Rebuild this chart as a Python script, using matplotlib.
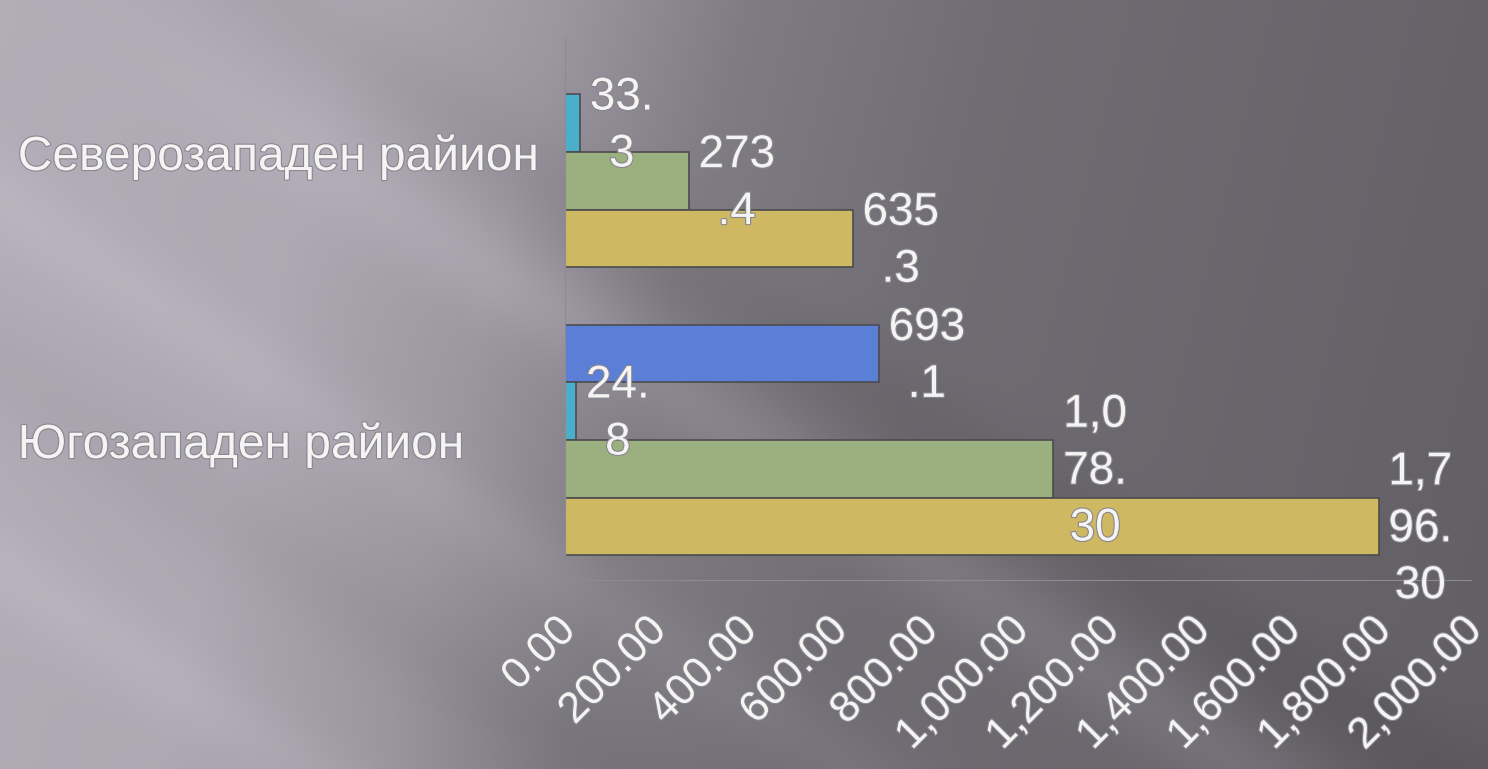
import numpy as np
import matplotlib.pyplot as plt
import matplotlib.transforms as mtransforms
import matplotlib.patheffects as pe

# ============================
# Data
# ============================
regions = ['Северозападен райион', 'Югозападен райион']
s_blue = [np.nan, 693.1]
s_cyan = [33.3, 24.8]
s_green = [273.4, 1078.30]
s_yellow = [635.3, 1796.30]
x_ticks = np.arange(0, 2001, 200)

series = [s_blue, s_cyan, s_green, s_yellow]
colors = ['#5b7fd6', '#4bafcb', '#9bb07f', '#cfb862']
offsets = [-0.3, -0.1, 0.1, 0.3]
bar_h = 0.2

plt.rcParams['font.family'] = ['Liberation Sans', 'DejaVu Sans']
txt_col = '#f4f4f4'
glow = [pe.withStroke(linewidth=1.6, foreground='#8a868d')]


def fmt_label(v):
    s = f'{v:,.2f}' if v >= 1000 else f'{v:.1f}'
    # chart wraps the labels every 3 characters
    return '\n'.join(s[i:i+3] for i in range(0, len(s), 3))


# ============================
# Figure + gradient background
# ============================
W, H = 1488, 769
fig = plt.figure(figsize=(W/100, H/100), dpi=100)

bg_ax = fig.add_axes([0, 0, 1, 1], zorder=-10)
yy, xx = np.mgrid[0:H, 0:W]
u = xx - 1.5 * yy
# diagonal light/dark streaks on a left-light / right-dark gradient
base = np.interp(xx + 0.25 * yy, [0, 350, 560, 750, 1000, 1700],
                 [0.70, 0.68, 0.61, 0.50, 0.44, 0.38])
streak = 0.05 * np.exp(-((u - 90) / 80) ** 2) * np.clip(yy / 300, 0, 1) \
    - 0.03 * np.exp(-((u - 280) / 90) ** 2) \
    + 0.03 * np.exp(-((u + 300) / 70) ** 2) \
    - 0.025 * np.exp(-((u + 550) / 90) ** 2) \
    + 0.03 * np.exp(-((u + 850) / 70) ** 2)
lum = np.clip(base + streak, 0, 1)
img = np.dstack([lum * 1.0, lum * 0.97, lum * 1.03])
bg_ax.imshow(np.clip(img, 0, 1), aspect='auto', extent=[0, 1, 0, 1])
bg_ax.axis('off')

# ============================
# Bars
# ============================
ax = fig.add_axes([565/W, 1 - 580/H, (1471 - 565)/W, (580 - 38)/H])
ax.patch.set_alpha(0)

for vals, col, off in zip(series, colors, offsets):
    for i, v in enumerate(vals):
        if np.isnan(v):
            continue
        ax.barh(i + off, v, height=bar_h, color=col, edgecolor='#4d4b50', linewidth=1.2)
        ax.annotate(fmt_label(v), xy=(v, i + off), xytext=(7, -2), textcoords='offset points',
                    ha='left', va='center', multialignment='center', fontsize=33,
                    color=txt_col, linespacing=1.38, path_effects=glow)

ax.set_xlim(0, 2000)
ax.set_ylim(1.486, -0.396)

ax.set_xticks(x_ticks)
ax.set_xticklabels([f'{v:,.2f}' for v in x_ticks], rotation=45, ha='right',
                   rotation_mode='anchor', fontsize=31, color=txt_col)
ax.tick_params(axis='x', length=0, pad=22)
shift = mtransforms.ScaledTranslation(-10/100, 0, fig.dpi_scale_trans)
for lbl in ax.get_xticklabels():
    lbl.set_transform(lbl.get_transform() + shift)
    lbl.set_path_effects(glow)

ax.set_yticks(range(len(regions)))
ax.set_yticklabels(regions, fontsize=34.5, color=txt_col)
ax.tick_params(axis='y', length=0, pad=394)
for lbl in ax.get_yticklabels():
    lbl.set_ha('left')
    lbl.set_path_effects(glow)

for side in ['top', 'right']:
    ax.spines[side].set_visible(False)
ax.spines['left'].set_color('#8d8a91')
ax.spines['bottom'].set_color('#8d8a91')

plt.savefig('out.png', dpi=100)
